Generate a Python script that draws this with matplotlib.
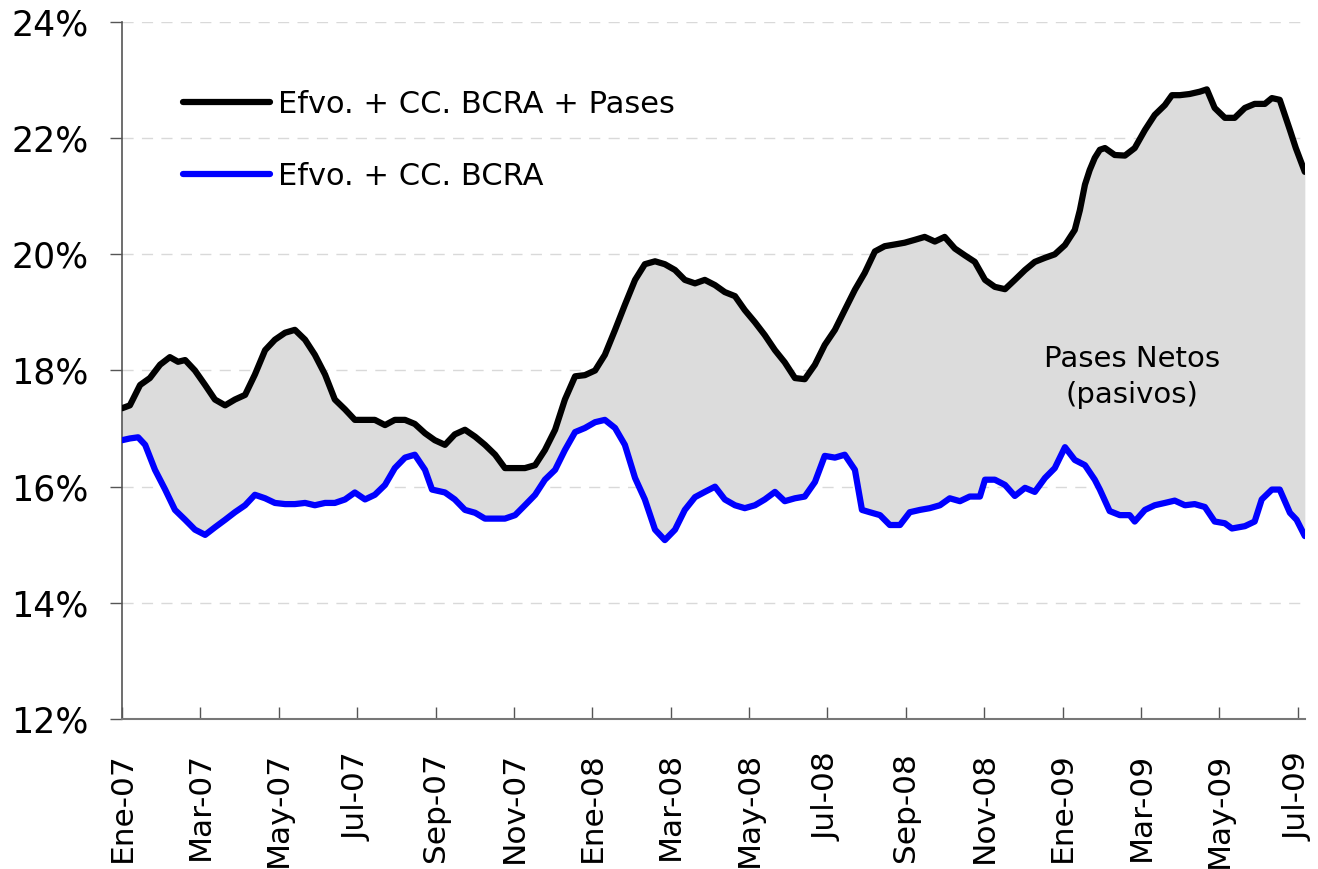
import matplotlib
matplotlib.use("Agg")
import matplotlib.pyplot as plt
import numpy as np

# months since Ene-07
t_pases = [0.00, 0.20, 0.46, 0.71, 0.97, 1.22, 1.43, 1.61, 1.86, 2.12, 2.37, 2.63, 2.88, 3.14, 3.39,
           3.65, 3.90, 4.16, 4.41, 4.67, 4.92, 5.18, 5.43, 5.69, 5.94, 6.20, 6.45, 6.71, 6.96, 7.22,
           7.47, 7.73, 7.98, 8.24, 8.49, 8.75, 9.01, 9.26, 9.52, 9.77, 10.03, 10.28, 10.54, 10.79, 11.05,
           11.30, 11.56, 11.81, 12.07, 12.32, 12.58, 12.83, 13.09, 13.34, 13.60, 13.85, 14.11, 14.36, 14.62, 14.87,
           15.13, 15.38, 15.64, 15.89, 16.15, 16.40, 16.66, 16.91, 17.17, 17.42, 17.68, 17.93, 18.19, 18.44, 18.70,
           18.95, 19.21, 19.46, 19.72, 19.97, 20.23, 20.48, 20.74, 20.99, 21.25, 21.51, 21.76, 22.02, 22.27, 22.53,
           22.78, 23.04, 23.29, 23.55, 23.80, 24.06, 24.31, 24.44, 24.57, 24.69, 24.82, 24.95, 25.08, 25.33, 25.59,
           25.84, 26.10, 26.35, 26.61, 26.79, 26.99, 27.24, 27.50, 27.68, 27.88, 28.14, 28.39, 28.65, 28.90, 29.16,
           29.34, 29.54, 29.67, 29.80, 29.95, 30.18]
efvo_cc_pases = [17.35, 17.40, 17.75, 17.87, 18.10, 18.23, 18.15, 18.18, 18.00, 17.75, 17.50, 17.40, 17.50, 17.58, 17.93,
                 18.35, 18.53, 18.65, 18.70, 18.53, 18.27, 17.93, 17.50, 17.33, 17.15, 17.15, 17.15, 17.06, 17.15, 17.15,
                 17.08, 16.92, 16.80, 16.72, 16.90, 16.98, 16.86, 16.72, 16.55, 16.32, 16.32, 16.32, 16.37, 16.63, 16.98,
                 17.50, 17.90, 17.92, 18.00, 18.27, 18.70, 19.13, 19.56, 19.83, 19.88, 19.83, 19.73, 19.56, 19.50, 19.56,
                 19.47, 19.35, 19.28, 19.04, 18.83, 18.61, 18.35, 18.14, 17.87, 17.85, 18.10, 18.44, 18.70, 19.04, 19.39,
                 19.68, 20.05, 20.14, 20.17, 20.20, 20.25, 20.30, 20.22, 20.30, 20.10, 19.98, 19.87, 19.56, 19.44, 19.40,
                 19.56, 19.73, 19.87, 19.94, 20.00, 20.16, 20.42, 20.76, 21.20, 21.45, 21.66, 21.80, 21.83, 21.71, 21.70,
                 21.83, 22.14, 22.40, 22.57, 22.74, 22.74, 22.76, 22.80, 22.84, 22.52, 22.35, 22.35, 22.52, 22.59, 22.59,
                 22.69, 22.66, 22.40, 22.14, 21.83, 21.42]

t_efvo = [0.00, 0.20, 0.41, 0.59, 0.84, 1.10, 1.35, 1.61, 1.86, 2.12, 2.37, 2.63, 2.88, 3.14, 3.39,
          3.65, 3.90, 4.16, 4.41, 4.67, 4.92, 5.18, 5.43, 5.69, 5.94, 6.20, 6.45, 6.71, 6.96, 7.22,
          7.47, 7.73, 7.91, 8.24, 8.49, 8.75, 9.01, 9.26, 9.52, 9.77, 10.03, 10.28, 10.54, 10.79, 11.05,
          11.30, 11.56, 11.81, 12.07, 12.32, 12.58, 12.83, 13.09, 13.34, 13.60, 13.85, 14.11, 14.36, 14.62, 14.87,
          15.13, 15.38, 15.64, 15.89, 16.15, 16.40, 16.66, 16.91, 17.17, 17.42, 17.68, 17.93, 18.19, 18.44, 18.70,
          18.88, 19.08, 19.34, 19.59, 19.85, 20.10, 20.36, 20.61, 20.87, 21.12, 21.38, 21.63, 21.89, 22.02, 22.27,
          22.53, 22.78, 23.04, 23.29, 23.55, 23.80, 24.06, 24.31, 24.57, 24.82, 24.95, 25.20, 25.46, 25.71, 25.84,
          26.10, 26.35, 26.61, 26.86, 27.12, 27.37, 27.63, 27.88, 28.14, 28.32, 28.65, 28.90, 29.08, 29.34, 29.54,
          29.80, 29.97, 30.18]
efvo_cc = [16.80, 16.83, 16.85, 16.72, 16.29, 15.95, 15.60, 15.43, 15.26, 15.17, 15.30, 15.43, 15.56, 15.68, 15.86,
           15.80, 15.72, 15.70, 15.70, 15.72, 15.68, 15.72, 15.72, 15.78, 15.90, 15.78, 15.86, 16.03, 16.32, 16.50,
           16.55, 16.29, 15.95, 15.90, 15.78, 15.60, 15.55, 15.45, 15.45, 15.45, 15.51, 15.68, 15.86, 16.12, 16.29,
           16.63, 16.94, 17.01, 17.11, 17.15, 17.01, 16.72, 16.15, 15.78, 15.26, 15.08, 15.26, 15.60, 15.82, 15.91,
           16.00, 15.78, 15.68, 15.63, 15.68, 15.78, 15.91, 15.75, 15.80, 15.83, 16.08, 16.53, 16.50, 16.55, 16.29,
           15.60, 15.56, 15.51, 15.34, 15.34, 15.56, 15.60, 15.63, 15.68, 15.80, 15.75, 15.83, 15.83, 16.12, 16.12,
           16.03, 15.84, 15.98, 15.91, 16.15, 16.32, 16.68, 16.46, 16.37, 16.12, 15.95, 15.58, 15.51, 15.51, 15.40,
           15.60, 15.68, 15.72, 15.76, 15.68, 15.70, 15.65, 15.40, 15.37, 15.28, 15.32, 15.40, 15.78, 15.95, 15.95,
           15.55, 15.43, 15.15]

tick_labels = ["Ene-07", "Mar-07", "May-07", "Jul-07", "Sep-07", "Nov-07", "Ene-08", "Mar-08",
               "May-08", "Jul-08", "Sep-08", "Nov-08", "Ene-09", "Mar-09", "May-09", "Jul-09"]

fig = plt.figure(figsize=(13.18, 8.69), dpi=100)
ax = fig.add_axes([0.0926, 0.1726, 0.8974, 0.8021])

# shaded area between the two series on a common grid
grid = np.union1d(t_pases, t_efvo)
upper = np.interp(grid, t_pases, efvo_cc_pases)
lower = np.interp(grid, t_efvo, efvo_cc)
ax.fill_between(grid, lower, upper, color="#dcdcdc", lw=0, zorder=1)

ax.plot(t_pases, efvo_cc_pases, color="black", lw=4.5, label="Efvo. + CC. BCRA + Pases", zorder=3,
        solid_capstyle="round")
ax.plot(t_efvo, efvo_cc, color="#0000ff", lw=4.5, label="Efvo. + CC. BCRA", zorder=3,
        solid_capstyle="round")

ax.set_xlim(0, 30.18)
ax.set_ylim(12, 24)
ax.set_yticks(np.arange(12, 25, 2))
ax.set_yticklabels([f"{v}%" for v in range(12, 25, 2)], fontsize=25)
ax.set_xticks(np.arange(0, 31, 2))
ax.set_xticklabels(tick_labels, rotation=90, fontsize=22.5)

for v in range(14, 25, 2):
    ax.axhline(v, color="#d9d9d9", lw=1, ls=(0, (8, 6)), zorder=0)

for s in ["top", "right"]:
    ax.spines[s].set_visible(False)
ax.spines["left"].set_color("#555555")
ax.spines["bottom"].set_color("#777777")
ax.spines["left"].set_linewidth(1.2)
ax.spines["bottom"].set_linewidth(1.5)
ax.tick_params(axis="y", direction="out", length=9, width=1, color="#555555", pad=15)
ax.tick_params(axis="x", direction="in", length=9, width=1, color="#555555", pad=24)

ax.legend(loc="upper left", bbox_to_anchor=(0.0516, 0.903), frameon=False, fontsize=22,
          handlelength=2.84, handletextpad=0.26, labelspacing=1.42,
          borderpad=0, borderaxespad=0)

ax.text(25.77, 17.89, "Pases Netos\n(pasivos)", ha="center", va="center", fontsize=21,
        linespacing=1.35, zorder=4)

fig.savefig("out.png", dpi=100)
